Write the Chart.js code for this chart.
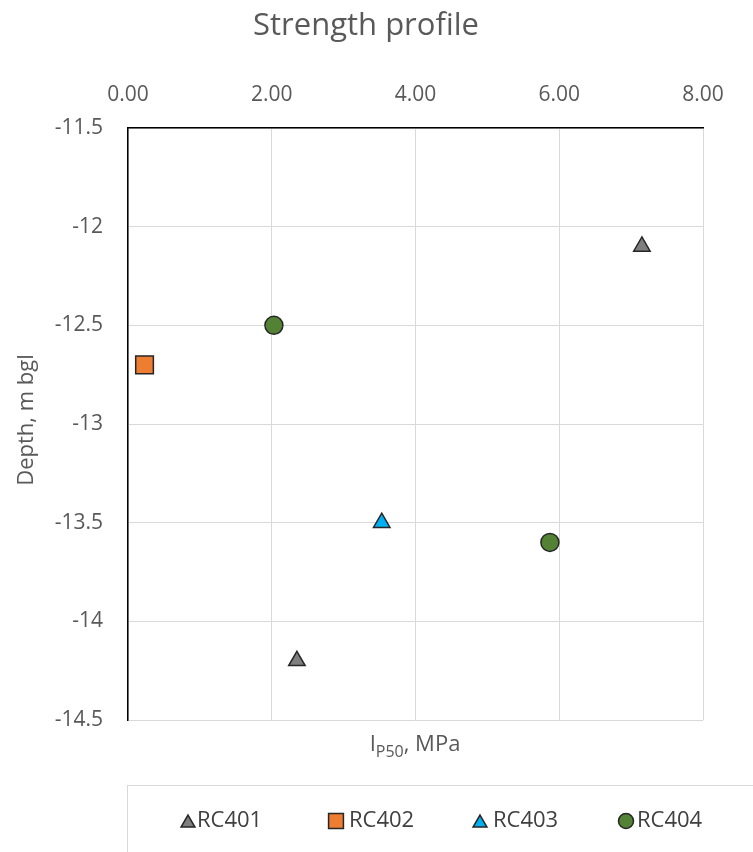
<!DOCTYPE html>
<html>
<head>
<meta charset="utf-8">
<script src="https://cdn.jsdelivr.net/npm/chart.js@4/dist/chart.umd.min.js"></script>
<style>
  html, body { margin: 0; padding: 0; background: #fff; }
  #wrap { width: 753px; height: 852px; position: relative; }
</style>
</head>
<body>
<div id="wrap"><canvas id="chart"></canvas></div>
<script>
// series: x = IP50 (MPa), y = depth (m bgl)
const seriesNames = ['RC401', 'RC402', 'RC403', 'RC404'];
const rc401X = [7.15, 2.35];
const rc401Y = [-12.1, -14.2];
const rc402X = [0.23];
const rc402Y = [-12.7];
const rc403X = [3.53];
const rc403Y = [-13.5];
const rc404X = [2.03, 5.87];
const rc404Y = [-12.5, -13.6];

const xTicks = [0, 2, 4, 6, 8];
const yTicks = [-11.5, -12, -12.5, -13, -13.5, -14, -14.5];

const FONT = "'Open Sans', 'Noto Sans', sans-serif";
const GREY_TXT = '#595959';
const GRID = '#d9d9d9';

const pts = (xs, ys) => xs.map((x, i) => ({ x: x, y: ys[i] }));

const styles = [
  { pointStyle: 'triangle', backgroundColor: '#7f7f7f', radius: 9.5, legendRadius: 8 },
  { pointStyle: 'rect', backgroundColor: '#ed7d31', radius: 12.5, legendRadius: 10.5 },
  { pointStyle: 'triangle', backgroundColor: '#00b0f0', radius: 9.5, legendRadius: 8 },
  { pointStyle: 'circle', backgroundColor: '#548235', radius: 9, legendRadius: 7.5 }
];
const seriesData = [pts(rc401X, rc401Y), pts(rc402X, rc402Y), pts(rc403X, rc403Y), pts(rc404X, rc404Y)];

// titles, x-axis caption (with subscript) and the boxed legend
const extras = {
  id: 'extras',
  afterDraw(chart) {
    const ctx = chart.ctx;
    ctx.save();
    ctx.fillStyle = GREY_TXT;
    ctx.textBaseline = 'middle';

    // chart title
    ctx.font = "31px " + FONT;
    ctx.textAlign = 'center';
    ctx.fillText('Strength profile', 366, 26);

    // y title
    ctx.save();
    ctx.translate(27, 420);
    ctx.rotate(-Math.PI / 2);
    ctx.font = "22px " + FONT;
    ctx.fillText('Depth, m bgl', 0, 0);
    ctx.restore();

    // x title: I_P50, MPa
    ctx.textAlign = 'left';
    const big = "22px " + FONT, small = "16px " + FONT;
    ctx.font = big; const w1 = ctx.measureText('I').width;
    ctx.font = small; const w2 = ctx.measureText('P50').width;
    ctx.font = big; const w3 = ctx.measureText(', MPa').width;
    let x = 415 - (w1 + w2 + w3) / 2;
    ctx.font = big; ctx.fillText('I', x, 745); x += w1;
    ctx.font = small; ctx.fillText('P50', x, 752); x += w2;
    ctx.font = big; ctx.fillText(', MPa', x, 745);

    // legend box
    ctx.strokeStyle = GRID;
    ctx.lineWidth = 1;
    ctx.strokeRect(127.5, 785.5, 640, 80);

    const markX = [188, 336, 480, 626];
    const textX = [197, 349, 493, 637];
    const ly = 821;
    ctx.font = "22px " + FONT;
    chart.data.datasets.forEach((ds, i) => {
      const st = styles[i];
      const opts = { pointStyle: st.pointStyle, radius: st.legendRadius, rotation: 0, borderWidth: 1.5 };
      ctx.fillStyle = st.backgroundColor;
      ctx.strokeStyle = '#262626';
      ctx.lineWidth = 1.5;
      Chart.helpers.drawPoint(ctx, opts, markX[i], ly + (st.pointStyle === 'triangle' ? 2 : 0));
      ctx.fillStyle = '#404040';
      ctx.textAlign = 'left';
      ctx.fillText(ds.label, textX[i], ly);
    });
    ctx.restore();
  }
};

new Chart(document.getElementById('chart'), {
  type: 'scatter',
  data: {
    datasets: seriesNames.map((name, i) => ({
      label: name,
      data: seriesData[i],
      pointStyle: styles[i].pointStyle,
      pointRadius: styles[i].radius,
      pointHoverRadius: styles[i].radius,
      backgroundColor: styles[i].backgroundColor,
      borderColor: '#262626',
      borderWidth: 1.5
    }))
  },
  options: {
    responsive: true,
    maintainAspectRatio: false,
    animation: false,
    layout: { padding: { left: 0, right: 50, top: 0, bottom: 132 } },
    plugins: {
      legend: { display: false },
      title: { display: false },
      tooltip: { enabled: false }
    },
    scales: {
      x: {
        type: 'linear',
        position: 'top',
        min: xTicks[0],
        max: xTicks[xTicks.length - 1],
        afterBuildTicks: (s) => { s.ticks = xTicks.map(v => ({ value: v })); },
        afterFit: (s) => { s.height = 128; },
        grid: { color: GRID, drawTicks: false, lineWidth: 1 },
        border: { color: '#000', width: 1.5 },
        ticks: {
          padding: 20,
          color: GREY_TXT,
          font: { family: FONT, size: 21 },
          callback: (v) => Number(v).toFixed(2)
        }
      },
      y: {
        type: 'linear',
        min: Math.min(...yTicks),
        max: Math.max(...yTicks),
        afterBuildTicks: (s) => { s.ticks = yTicks.slice().reverse().map(v => ({ value: v })); },
        afterFit: (s) => { s.width = 128; },
        grid: { color: GRID, drawTicks: false, lineWidth: 1 },
        border: { color: '#000', width: 1.5 },
        ticks: {
          padding: 25,
          color: GREY_TXT,
          font: { family: FONT, size: 21 },
          callback: (v) => String(v)
        }
      }
    }
  },
  plugins: [extras]
});
</script>
</body>
</html>
